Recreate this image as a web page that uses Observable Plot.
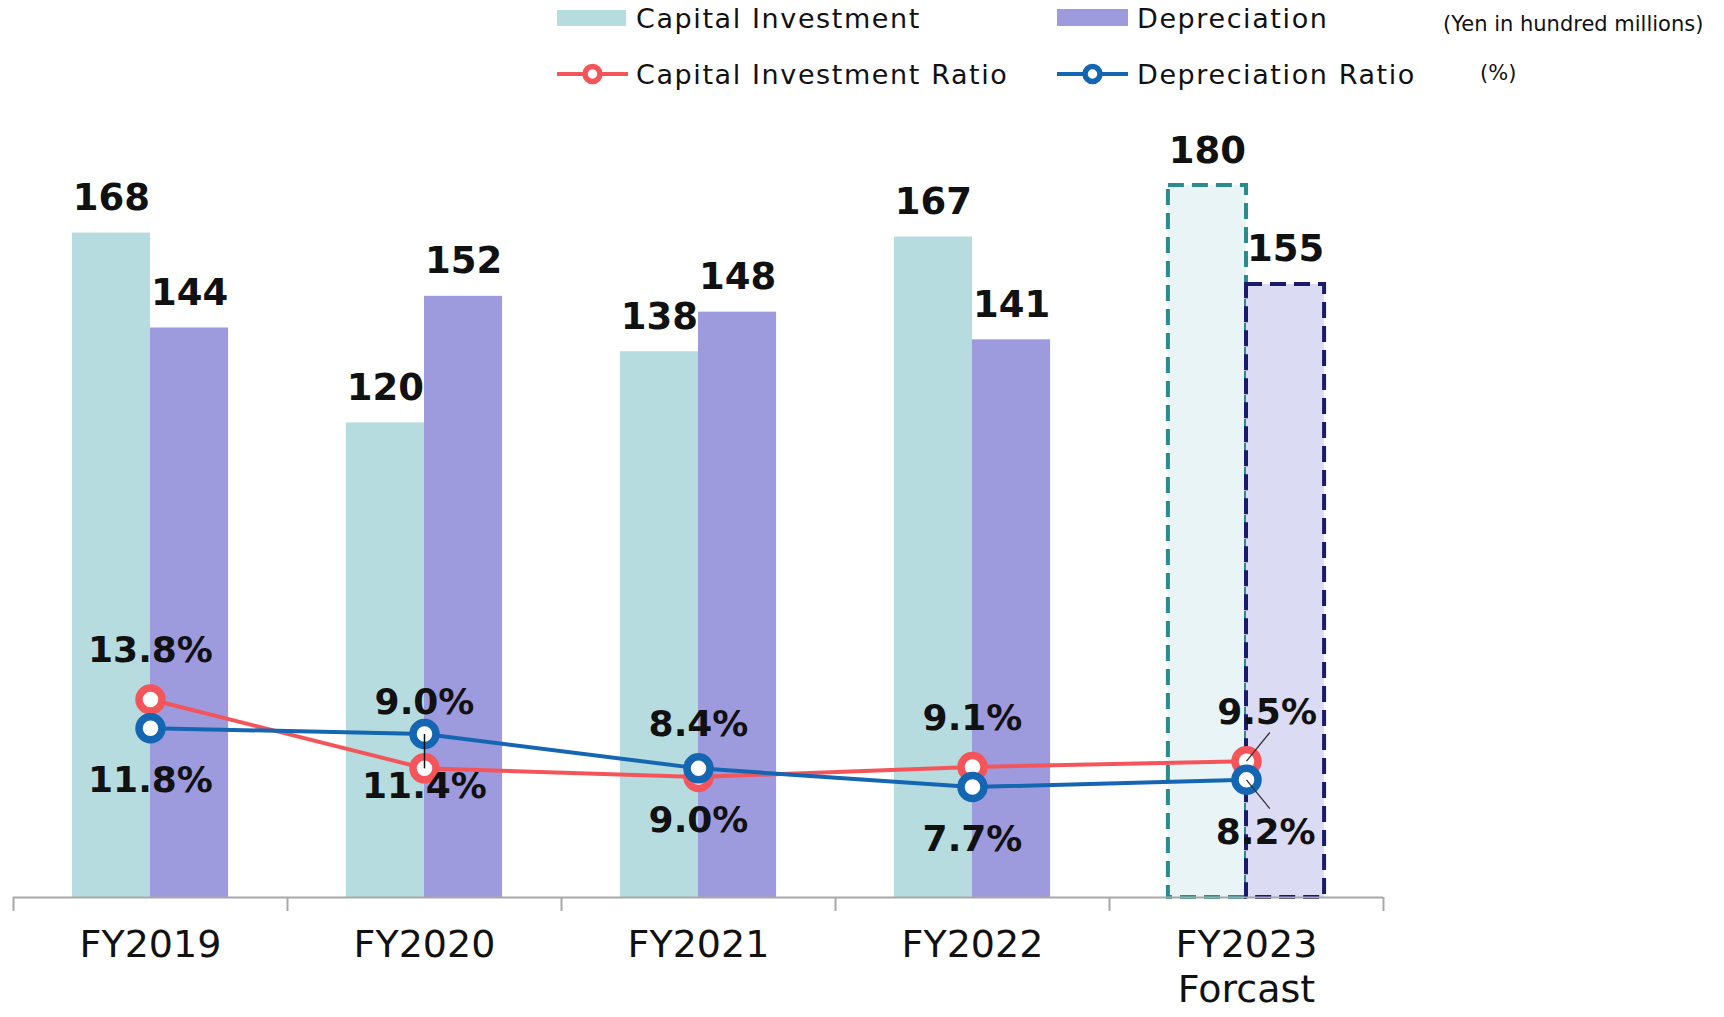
<!DOCTYPE html>
<html>
<head>
<meta charset="utf-8">
<script src="https://cdn.jsdelivr.net/npm/d3@7"></script>
<script src="https://cdn.jsdelivr.net/npm/@observablehq/plot@0.6"></script>
<style>
  html, body { margin: 0; padding: 0; background: #fff; }
  #wrap { width: 1724px; height: 1017px; overflow: hidden; font-family: "DejaVu Sans", sans-serif; }
  #legend { display: block; }
</style>
</head>
<body>
<div id="wrap">
  <svg id="legend" width="1724" height="100"></svg>
  <div id="chart"></div>
</div>
<script>
// ---- data ----
const years = ["FY2019", "FY2020", "FY2021", "FY2022", "FY2023\nForcast"];
const capitalInvestment = [168, 120, 138, 167, 180];
const depreciation = [144, 152, 148, 141, 155];
const capitalInvestmentRatio = [13.8, 9.0, 8.4, 9.1, 9.5];
const depreciationRatio = [11.8, 11.4, 9.0, 7.7, 8.2];
const isForecast = [false, false, false, false, true];
const seriesNames = ["Capital Investment", "Depreciation", "Capital Investment Ratio", "Depreciation Ratio"];
const unitNotes = ["(Yen in hundred millions)", "(%)"];

// ---- styles ----
const C_CI = "#b7dce0", C_DEP = "#9d9ade";
const C_CI_F = "#e8f4f5", C_DEP_F = "#dcdbf4";
const S_CI_F = "#2a8c8c", S_DEP_F = "#1b1b6b";
const C_RED = "#f4555b", C_BLUE = "#1566b2";
const FONT = "DejaVu Sans";
const W = 0.285;      // bar width in category units
const K = 3.628;      // secondary (ratio %) axis -> primary units

const rows = years.map((year, i) => ({
  i, year,
  ci: capitalInvestment[i], dep: depreciation[i],
  cir: capitalInvestmentRatio[i], depr: depreciationRatio[i],
  forecast: isForecast[i]
}));
const actual = rows.filter(d => !d.forecast);
const fcst = rows.filter(d => d.forecast);
const boundaries = d3.range(years.length + 1).map(j => j - 0.5);
const pct = v => v.toFixed(1) + "%";

// ---- legend ----
const lg = d3.select("#legend");
function swatch(x, y, w, h, fill) { lg.append("rect").attr("x", x).attr("y", y).attr("width", w).attr("height", h).attr("fill", fill); }
function lineSw(x1, x2, y, color) {
  lg.append("line").attr("x1", x1).attr("x2", x2).attr("y1", y).attr("y2", y).attr("stroke", color).attr("stroke-width", 4);
  lg.append("circle").attr("cx", (x1 + x2) / 2).attr("cy", y).attr("r", 7.5).attr("fill", "#fff").attr("stroke", color).attr("stroke-width", 5.5);
}
function label(x, y, t, size, ls) {
  lg.append("text").attr("x", x).attr("y", y).attr("font-family", FONT).attr("font-size", size)
    .attr("letter-spacing", ls).attr("fill", "#111").text(t);
}
swatch(557, 10, 69, 16, C_CI);
label(636, 28, seriesNames[0], 27, 1.6);
swatch(1057, 9, 71, 17, C_DEP);
label(1137, 28, seriesNames[1], 27, 1.6);
lineSw(557, 628, 74, C_RED);
label(636, 84, seriesNames[2], 27, 1.6);
lineSw(1057, 1128, 74, C_BLUE);
label(1137, 84, seriesNames[3], 27, 1.6);
label(1443, 31, unitNotes[0], 21, 0);
label(1480, 80, unitNotes[1], 21, 0);

// ---- chart ----
const chart = Plot.plot({
  width: 1724,
  height: 917,
  marginTop: 6,
  marginBottom: 120,
  marginLeft: 13,
  marginRight: 341,
  x: {type: "linear", domain: [-0.5, years.length - 0.5], axis: null},
  y: {domain: [0, 200], axis: null},
  style: {fontFamily: FONT, overflow: "visible", background: "#fff"},
  marks: [
    // actual bars
    Plot.rect(actual, {x1: d => d.i - W, x2: d => d.i, y1: 0, y2: d => d.ci, fill: C_CI}),
    Plot.rect(actual, {x1: d => d.i, x2: d => d.i + W, y1: 0, y2: d => d.dep, fill: C_DEP}),
    // forecast bars (dashed)
    Plot.rect(fcst, {x1: d => d.i - W, x2: d => d.i, y1: 0, y2: d => d.ci, fill: C_CI_F, stroke: S_CI_F, strokeWidth: 4, strokeDasharray: "16,8"}),
    Plot.rect(fcst, {x1: d => d.i, x2: d => d.i + W, y1: 0, y2: d => d.dep, fill: C_DEP_F, stroke: S_DEP_F, strokeWidth: 4, strokeDasharray: "16,8"}),
    // axis
    Plot.ruleY([0], {stroke: "#a8a8a8", strokeWidth: 2}),
    Plot.axisX(boundaries, {tickSize: 14, tickFormat: () => "", stroke: "#a8a8a8", strokeWidth: 2, label: null}),
    // bar value labels
    Plot.text(rows, {x: d => d.i - W / 2, y: d => d.ci, text: d => String(d.ci), lineAnchor: "bottom", dy: -23, fontSize: 37, fontWeight: "bold", fill: "#111"}),
    Plot.text(rows, {x: d => d.i + W / 2, y: d => d.dep, text: d => String(d.dep), lineAnchor: "bottom", dy: -23, fontSize: 37, fontWeight: "bold", fill: "#111"}),
    // ratio lines
    Plot.line(rows, {x: "i", y: d => d.cir * K, stroke: C_RED, strokeWidth: 4}),
    Plot.dot(rows, {x: "i", y: d => d.cir * K, r: 11.5, fill: "#fff", stroke: C_RED, strokeWidth: 7.5}),
    Plot.line(rows, {x: "i", y: d => d.depr * K, stroke: C_BLUE, strokeWidth: 4}),
    Plot.dot(rows, {x: "i", y: d => d.depr * K, r: 11.5, fill: "#fff", stroke: C_BLUE, strokeWidth: 7.5}),
    // leader lines
    Plot.link(rows.filter(d => d.i === 1), {x1: "i", x2: "i", y1: d => d.depr * K, y2: d => d.cir * K, stroke: "#111", strokeWidth: 1.5}),
    Plot.link(fcst, {x1: "i", x2: d => d.i + 0.085, y1: d => d.cir * K, y2: d => (d.cir + 2) * K, stroke: "#333", strokeWidth: 1.3}),
    Plot.link(fcst, {x1: "i", x2: d => d.i + 0.085, y1: d => d.depr * K, y2: d => (d.depr - 2) * K, stroke: "#333", strokeWidth: 1.3}),
    // ratio labels
    Plot.text(rows, {x: d => d.forecast ? d.i + 0.075 : d.i, y: d => (Math.max(d.cir, d.depr) + d.cir) / 2 * K, text: d => pct(d.cir), lineAnchor: "bottom", dy: -37, fontSize: 36, fontWeight: "bold", fill: "#111"}),
    Plot.text(rows, {x: d => d.forecast ? d.i + 0.07 : d.i, y: d => d.depr * K, text: d => pct(d.depr), lineAnchor: "bottom", dy: 64, fontSize: 36, fontWeight: "bold", fill: "#111"}),
    // category labels
    Plot.text(rows, {x: "i", y: 0, text: "year", lineAnchor: "top", dy: 28, fontSize: 38, lineHeight: 1.18, fill: "#111", style: "letter-spacing:2.5px"})
  ]
});
document.getElementById("chart").appendChild(chart);
</script>
</body>
</html>
